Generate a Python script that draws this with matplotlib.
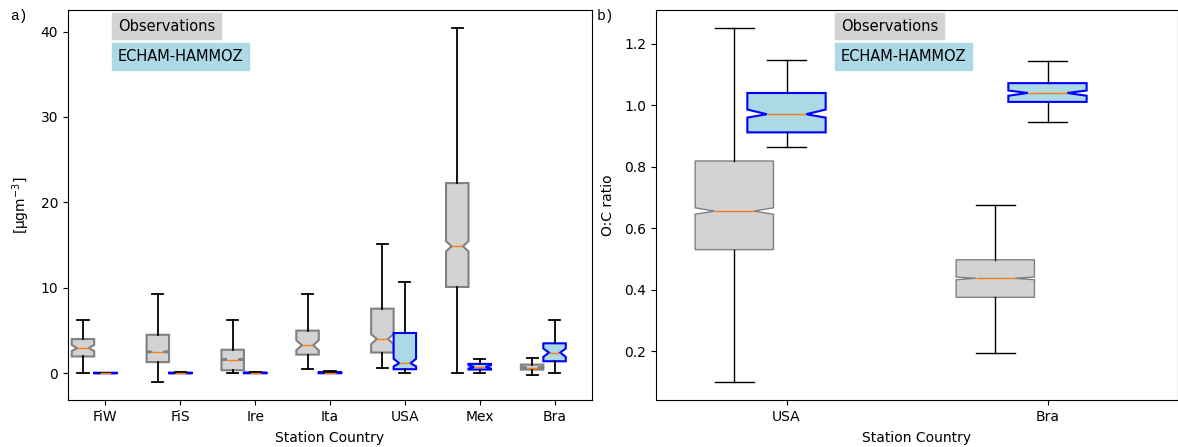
import matplotlib
matplotlib.use("Agg")
import matplotlib.pyplot as plt

# ---------------- data ----------------
stations = ["FiW", "FiS", "Ire", "Ita", "USA", "Mex", "Bra"]

# Panel a: organic aerosol mass concentration [µg m-3]
obs_whislo = [0.08, -1.06, 0.0, 0.47, 0.58, 0.08, -0.2]
obs_q1     = [1.96, 1.30, 0.35, 2.18, 2.42, 10.10, 0.43]
obs_med    = [2.94, 2.50, 1.60, 3.27, 4.02, 14.85, 0.66]
obs_q3     = [4.00, 4.50, 2.75, 4.99, 7.56, 22.26, 1.01]
obs_whishi = [6.27, 9.30, 6.27, 9.27, 15.15, 40.45, 1.79]
obs_cilo   = [2.60, 2.40, 1.50, 2.69, 3.39, 14.27, 0.60]
obs_cihi   = [3.30, 2.60, 1.70, 3.86, 4.56, 15.47, 0.72]

mod_whislo = [0.0, 0.0, 0.0, 0.0, 0.0, 0.0, 0.08]
mod_q1     = [0.0, 0.0, 0.0, 0.0, 0.47, 0.43, 1.40]
mod_med    = [0.02, 0.02, 0.03, 0.05, 1.17, 0.74, 2.42]
mod_q3     = [0.05, 0.06, 0.07, 0.12, 4.71, 1.09, 3.50]
mod_whishi = [0.08, 0.10, 0.10, 0.25, 10.68, 1.67, 6.28]
mod_cilo   = [0.01, 0.01, 0.02, 0.03, 0.80, 0.55, 1.91]
mod_cihi   = [0.03, 0.03, 0.04, 0.08, 1.69, 0.93, 2.89]

# Panel b: O:C ratio
oc_stations = ["USA", "Bra"]
oc_obs_whislo = [0.100, 0.194]
oc_obs_q1     = [0.531, 0.376]
oc_obs_med    = [0.656, 0.438]
oc_obs_q3     = [0.819, 0.498]
oc_obs_whishi = [1.252, 0.676]
oc_obs_cilo   = [0.646, 0.433]
oc_obs_cihi   = [0.667, 0.442]

oc_mod_whislo = [0.865, 0.947]
oc_mod_q1     = [0.912, 1.011]
oc_mod_med    = [0.971, 1.040]
oc_mod_q3     = [1.040, 1.072]
oc_mod_whishi = [1.148, 1.145]
oc_mod_cilo   = [0.960, 1.031]
oc_mod_cihi   = [0.986, 1.048]


def make_stats(whislo, q1, med, q3, whishi, cilo, cihi):
    return [dict(whislo=a, q1=b, med=c, q3=d, whishi=e, cilo=f, cihi=g, fliers=[])
            for a, b, c, d, e, f, g in zip(whislo, q1, med, q3, whishi, cilo, cihi)]


def draw_pair(ax, obs_stats, mod_stats, offset, lw_obs, lw_mod, lw_whisk):
    n = len(obs_stats)
    pos = list(range(1, n + 1))
    ax.bxp(obs_stats, positions=[p - offset for p in pos], widths=0.3,
           shownotches=True, showfliers=False, patch_artist=True,
           manage_ticks=False,
           boxprops=dict(facecolor="lightgrey", edgecolor="grey", linewidth=lw_obs),
           whiskerprops=dict(color="black", linewidth=lw_whisk),
           capprops=dict(color="black", linewidth=lw_whisk),
           medianprops=dict(color="C1", linewidth=1.0))
    ax.bxp(mod_stats, positions=pos, widths=0.3,
           shownotches=True, showfliers=False, patch_artist=True,
           manage_ticks=False,
           boxprops=dict(facecolor="lightblue", edgecolor="blue", linewidth=lw_mod),
           whiskerprops=dict(color="black", linewidth=lw_whisk),
           capprops=dict(color="black", linewidth=lw_whisk),
           medianprops=dict(color="C1", linewidth=1.0))
    ax.set_xticks(pos)
    ax.set_xlim(0.5, n + 0.5)


fig = plt.figure(figsize=(11.78, 4.47), dpi=100)
W, H = 1178, 447
ax1 = fig.add_axes([68 / W, 47 / H, 524 / W, 390 / H])
ax2 = fig.add_axes([656 / W, 47 / H, 522 / W, 390 / H])

# ---- panel a ----
draw_pair(ax1,
          make_stats(obs_whislo, obs_q1, obs_med, obs_q3, obs_whishi, obs_cilo, obs_cihi),
          make_stats(mod_whislo, mod_q1, mod_med, mod_q3, mod_whishi, mod_cilo, mod_cihi),
          offset=0.3, lw_obs=1.5, lw_mod=1.5, lw_whisk=1.3)
ax1.set_xticklabels(stations)
ax1.set_xlabel("Station Country", labelpad=5)
ax1.set_ylabel("[µgm$^{-3}$]")
ax1.yaxis.set_label_coords(-0.069, 0.5)

# ---- panel b ----
draw_pair(ax2,
          make_stats(oc_obs_whislo, oc_obs_q1, oc_obs_med, oc_obs_q3, oc_obs_whishi,
                     oc_obs_cilo, oc_obs_cihi),
          make_stats(oc_mod_whislo, oc_mod_q1, oc_mod_med, oc_mod_q3, oc_mod_whishi,
                     oc_mod_cilo, oc_mod_cihi),
          offset=0.2, lw_obs=1.0, lw_mod=1.5, lw_whisk=1.0)
ax2.set_xticklabels(oc_stations)
ax2.set_xlabel("Station Country", labelpad=5)
ax2.set_ylabel("O:C ratio", labelpad=7)

for ax in (ax1, ax2):
    ax.relim()
    ax.autoscale(axis="y")

# ---- series labels ----
for ax, x in ((ax1, 0.095), (ax2, 0.354)):
    ax.text(x, 0.978, "Observations", transform=ax.transAxes, fontsize=10.5,
            va="top", ha="left",
            bbox=dict(facecolor="lightgrey", edgecolor="lightgrey", pad=4))
    ax.text(x, 0.900, "ECHAM-HAMMOZ", transform=ax.transAxes, fontsize=10.5,
            va="top", ha="left",
            bbox=dict(facecolor="lightblue", edgecolor="lightblue", pad=4))

# ---- panel letters ----
fig.text(10 / W, 1 - 16 / H, "a)", family="Liberation Mono", fontsize=10.5, va="center")
fig.text(597 / W, 1 - 16 / H, "b)", family="Liberation Mono", fontsize=10.5, va="center")

fig.savefig("out.png", dpi=100)
